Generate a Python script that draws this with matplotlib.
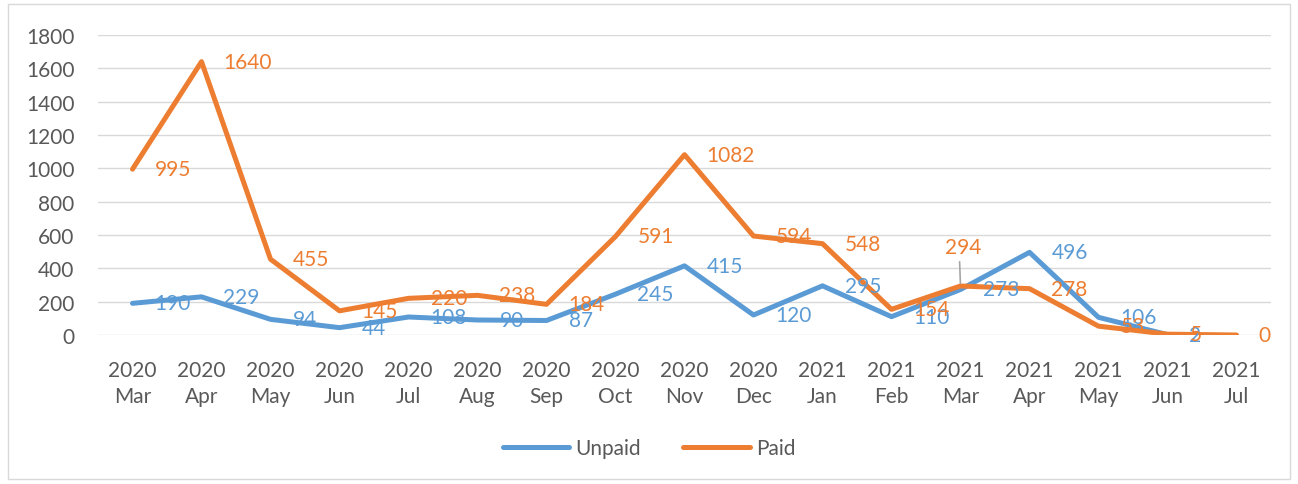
import matplotlib.pyplot as plt
import matplotlib.patches as patches

months = ["2020\nMar", "2020\nApr", "2020\nMay", "2020\nJun", "2020\nJul", "2020\nAug",
          "2020\nSep", "2020\nOct", "2020\nNov", "2020\nDec", "2021\nJan", "2021\nFeb",
          "2021\nMar", "2021\nApr", "2021\nMay", "2021\nJun", "2021\nJul"]
unpaid = [190, 229, 94, 44, 108, 90, 87, 245, 415, 120, 295, 110, 273, 496, 106, 2]
paid = [995, 1640, 455, 145, 220, 238, 184, 591, 1082, 594, 548, 154, 294, 278, 53, 5, 0]

blue = "#5B9BD5"
orange = "#ED7D31"
grey = "#595959"

plt.rcParams['font.family'] = ['Lato', 'DejaVu Sans']

fig = plt.figure(figsize=(12.98, 4.85), dpi=100)
ax = fig.add_axes([98 / 1298, 1 - 336 / 485, 1173 / 1298, 300 / 485])

# light frame around the whole chart
fig.patches.append(patches.Rectangle((8 / 1298, 5 / 485), 1282 / 1298, 475 / 485,
                                     transform=fig.transFigure, fill=False,
                                     edgecolor="#D9D9D9", linewidth=1))

xu = list(range(len(unpaid)))
xp = list(range(len(paid)))
ax.plot(xu, unpaid, color=blue, linewidth=3.6, solid_capstyle="round", label="Unpaid", zorder=3)
ax.plot(xp, paid, color=orange, linewidth=3.6, solid_capstyle="round", label="Paid", zorder=3)

for x, v in zip(xu, unpaid):
    ax.annotate(str(v), (x, v), xytext=(22, 0), textcoords="offset pixels",
                ha="left", va="center", color=blue, fontsize=15, zorder=4)
for x, v in zip(xp, paid):
    if v == 294:
        # label moved above the point, with a leader line
        ax.annotate(str(v), (x, v), xytext=(3, 39), textcoords="offset pixels",
                    ha="center", va="center", color=orange, fontsize=15, zorder=4)
        ax.annotate("", (x, v), xytext=(-1, 27), textcoords="offset pixels",
                    arrowprops=dict(arrowstyle="-", color="#A6A6A6", lw=1.2))
    else:
        ax.annotate(str(v), (x, v), xytext=(22, 0), textcoords="offset pixels",
                    ha="left", va="center", color=orange, fontsize=15, zorder=4)

ax.set_xlim(-0.5, len(months) - 0.5)
ax.set_ylim(0, 1800)
ax.set_yticks(range(0, 1801, 200))
ax.set_xticks(range(len(months)))
ax.set_xticklabels(months, linespacing=1.4)
ax.tick_params(axis="both", length=0, labelsize=15, colors=grey)
ax.tick_params(axis="x", pad=18)
ax.tick_params(axis="y", pad=17)
ax.grid(axis="y", color="#D9D9D9", linewidth=1)
ax.set_axisbelow(True)
for s in ax.spines.values():
    s.set_visible(False)

fig.legend(loc="center", bbox_to_anchor=(0.5, 1 - 449 / 485), ncol=2, frameon=False,
           fontsize=15, labelcolor=grey, handlelength=3.2, columnspacing=2.0, handletextpad=0.3)

fig.savefig("out.png", dpi=100)
